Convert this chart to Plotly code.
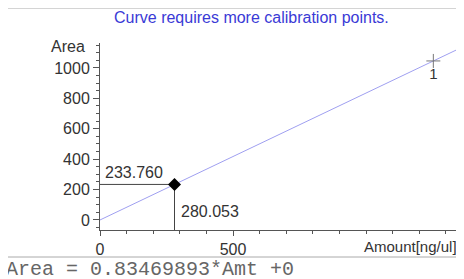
import plotly.graph_objects as go

# ---- data ----
slope = 0.83469893
intercept = 0.0
fit_amounts = [0, 1400]
calib_amount = [1253]
calib_area = [1046]
calib_labels = ["1"]
sample_amount = [280.053]
sample_area = [233.760]
x_tickvals = [0, 500]
x_ticktext = ["0", "500"]
y_tickvals = [0, 200, 400, 600, 800, 1000]
y_ticktext = ["0", "200", "400", "600", "800", "1000"]
x_range = [0, 1357]
y_range = [-66, 1164]

# page body has an 8px margin; figure is placed at (8, 8)
OFF = 8
W, H = 464 - OFF, 279 - OFF
# plot area in page pixels: x 100..461, y 43..230
L, R, T, B = 100 - OFF, 3, 43 - OFF, 279 - 230
pw, ph = W - L - R, H - T - B

def px2paper_x(px):
    return (px - OFF - L) / pw

def px2paper_y(py):
    return (H - B - (py - OFF)) / ph

FONT = "Liberation Sans, Arial, sans-serif"
AX = "#555555"
TXT = "#333333"

fig = go.Figure()

# fit line
fig.add_trace(go.Scatter(
    x=fit_amounts, y=[slope * a + intercept for a in fit_amounts],
    mode="lines", line=dict(color="#9f9ff0", width=1), hoverinfo="skip",
    showlegend=False))

# drop lines for sample point
fig.add_trace(go.Scatter(
    x=[x_range[0], sample_amount[0], sample_amount[0]],
    y=[sample_area[0], sample_area[0], y_range[0]],
    mode="lines", line=dict(color="#444444", width=1), showlegend=False,
    hoverinfo="skip"))

# calibration point
fig.add_trace(go.Scatter(
    x=calib_amount, y=calib_area, mode="markers+text",
    marker=dict(symbol="cross-thin", size=10, line=dict(color="#777777", width=1)),
    text=calib_labels, textposition="bottom center",
    textfont=dict(family=FONT, size=15, color=TXT),
    showlegend=False))

# sample point
fig.add_trace(go.Scatter(
    x=sample_amount, y=sample_area, mode="markers",
    marker=dict(symbol="diamond", size=10, color="black"),
    showlegend=False))

# value labels
fig.add_annotation(x=x_range[0], y=sample_area[0], xref="x", yref="y",
                   text=f"{sample_area[0]:.3f}", showarrow=False,
                   xanchor="left", yanchor="bottom", xshift=3, yshift=1,
                   font=dict(family=FONT, size=16, color=TXT))
fig.add_annotation(x=sample_amount[0], y=sample_area[0], xref="x", yref="y",
                   text=f"{sample_amount[0]:.3f}", showarrow=False,
                   xanchor="left", yanchor="middle", xshift=4, yshift=-27,
                   font=dict(family=FONT, size=16, color=TXT))

# title
fig.add_annotation(x=px2paper_x(251), y=px2paper_y(17), xref="paper", yref="paper",
                   text="Curve requires more calibration points.", showarrow=False,
                   xanchor="center", yanchor="middle",
                   font=dict(family=FONT, size=16, color="#3a3ad6"))
# axis titles
fig.add_annotation(x=px2paper_x(87), y=px2paper_y(47), xref="paper", yref="paper",
                   text="Area", showarrow=False, xanchor="right", yanchor="middle",
                   font=dict(family=FONT, size=16, color=TXT))
fig.add_annotation(x=px2paper_x(459), y=px2paper_y(247), xref="paper", yref="paper",
                   text="Amount[ng/ul]", showarrow=False, xanchor="right", yanchor="middle",
                   font=dict(family=FONT, size=15, color=TXT))
# equation
fig.add_annotation(x=px2paper_x(5), y=px2paper_y(257), xref="paper", yref="paper",
                   text=f"Area = {slope:.8f}*Amt +{intercept:g}", showarrow=False,
                   xanchor="left", yanchor="top", borderpad=0,
                   font=dict(family="Liberation Mono, Courier New, monospace", size=20,
                             color="#666666"))

# outer frame
fig.add_shape(type="rect", xref="paper", yref="paper",
              x0=px2paper_x(6), x1=px2paper_x(460.5),
              y0=px2paper_y(257), y1=px2paper_y(8),
              line=dict(color="#aaaaaa", width=1))

fig.update_layout(
    width=W, height=H, margin=dict(l=L, r=R, t=T, b=B),
    paper_bgcolor="white", plot_bgcolor="white",
    xaxis=dict(range=x_range, tickvals=x_tickvals, ticktext=x_ticktext,
               showgrid=False, zeroline=False, showline=True, linecolor=AX,
               ticks="outside", ticklen=5, tickcolor=AX,
               minor=dict(dtick=100, ticks="outside", ticklen=3, tickcolor=AX),
               tickfont=dict(family=FONT, size=16, color=TXT)),
    yaxis=dict(range=y_range, tickvals=y_tickvals, ticktext=y_ticktext,
               showgrid=False, zeroline=False, showline=True, linecolor=AX,
               ticks="outside", ticklen=6, tickcolor=AX,
               minor=dict(dtick=50, tick0=0, ticks="outside", ticklen=3, tickcolor=AX),
               tickfont=dict(family=FONT, size=16, color=TXT)),
)

fig.write_html("out.html")
